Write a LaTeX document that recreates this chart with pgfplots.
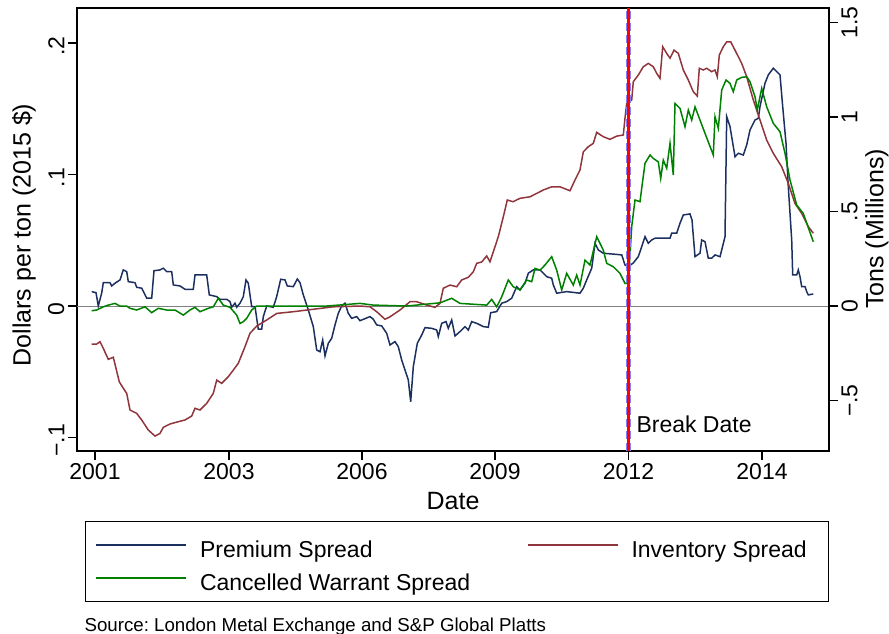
\documentclass[border=0pt]{standalone}
\usepackage{fontspec}
\setmainfont{Liberation Sans}
\usepackage{pgfplots}
\pgfplotsset{compat=1.18}
\definecolor{navyc}{RGB}{28,48,95}
\definecolor{maroonc}{RGB}{144,53,59}
\definecolor{greenc}{RGB}{0,128,0}
\definecolor{breakblue}{RGB}{128,128,255}
\newcommand{\tickfont}{\fontsize{23}{27}\selectfont}
\newcommand{\titlefont}{\fontsize{25}{30}\selectfont}
\frenchspacing
% x: position on the date axis (2001 = 95, 2003 = 229, 2006 = 362, 2009 = 495, 2012 = 628.5, 2014 = 762)
\pgfplotstableread{
x y
91.7 0.0109
96 0.0101
98.3 0.0000
101.7 0.0099
103.3 0.0177
110 0.0177
111.7 0.0152
115 0.0173
120 0.0198
123.3 0.0274
126.7 0.0261
128.3 0.0185
135 0.0177
136.7 0.0142
141.7 0.0135
146.7 0.0059
151.7 0.0059
154 0.0268
160 0.0274
163.3 0.0287
166.7 0.0261
171.7 0.0261
173.3 0.0160
180 0.0152
185 0.0127
193.3 0.0127
195 0.0236
206.7 0.0236
209.3 0.0084
216.7 0.0071
220 0.0051
226.7 0.0051
230 0.0033
231.7 -0.0010
235 0.0021
236.7 -0.0010
240 0.0021
243.3 0.0071
246 0.0198
248.3 0.0173
251.7 -0.0005
255 -0.0005
258.3 -0.0177
261.7 -0.0177
263.3 -0.0081
266.7 0.0000
273.3 -0.0010
276.7 0.0071
280.7 0.0203
285 0.0198
287.3 0.0152
293.3 0.0147
297.3 0.0205
300 0.0177
303.3 0.0084
308.3 -0.0030
313.3 -0.0157
316.7 -0.0335
320 -0.0348
322.7 -0.0259
325 -0.0380
328.3 -0.0284
331.7 -0.0246
335 -0.0144
338.3 -0.0056
341.7 0.0000
345 0.0021
348.3 -0.0056
351.7 -0.0094
356.7 -0.0081
360 -0.0112
370 -0.0081
373.3 -0.0101
376.7 -0.0144
381.7 -0.0152
386.7 -0.0208
390 -0.0297
395 -0.0271
398.3 -0.0310
401.7 -0.0411
405 -0.0487
408.3 -0.0563
410.7 -0.0728
413.3 -0.0462
417.3 -0.0284
421.7 -0.0221
425 -0.0165
431.7 -0.0170
436.7 -0.0183
438.3 -0.0233
441.7 -0.0132
446 -0.0119
448.3 -0.0170
451.7 -0.0106
455 -0.0228
460 -0.0195
465 -0.0157
468.3 -0.0183
471.7 -0.0119
476.7 -0.0132
483.3 -0.0157
488.3 -0.0162
490.7 -0.0051
496.7 -0.0043
501.7 0.0021
506.7 0.0033
511.7 0.0059
516.7 0.0147
520 0.0122
525 0.0173
528.3 0.0249
533.3 0.0274
540 0.0274
543.3 0.0249
546.7 0.0223
551.7 0.0211
553.3 0.0160
556.7 0.0097
566.7 0.0109
580 0.0097
583.3 0.0135
586.7 0.0198
591.7 0.0287
595 0.0477
598.3 0.0426
603.3 0.0401
616.7 0.0392
621.7 0.0388
625 0.0312
628.3 0.0299
633.3 0.0327
638.3 0.0375
641.7 0.0451
645 0.0527
648.3 0.0477
651.7 0.0502
655 0.0515
661.7 0.0515
670 0.0515
671.7 0.0553
676.7 0.0553
680 0.0629
683.3 0.0692
690 0.0700
692 0.0654
695 0.0375
700 0.0401
701.7 0.0502
705 0.0489
708.3 0.0363
711.7 0.0363
715 0.0388
720 0.0375
725 0.0527
726.7 0.1440
730 0.1364
735 0.1135
738.3 0.1161
743.3 0.1148
746.7 0.1224
750 0.1338
755 0.1414
758.3 0.1427
760 0.1516
765 0.1694
768.3 0.1757
773.3 0.1808
776.7 0.1782
780 0.1757
782.7 0.1516
786 0.1237
788.3 0.0907
791.7 0.0502
792.7 0.0236
796.7 0.0236
798.3 0.0274
800 0.0223
801.7 0.0147
805 0.0147
806.7 0.0109
808.3 0.0084
813.3 0.0091
}\premium
\pgfplotstableread{
x y
91.7 -0.201
96.7 -0.201
100 -0.189
103.3 -0.224
108.3 -0.282
113.3 -0.271
119.3 -0.401
123.3 -0.435
126.7 -0.462
130 -0.550
136.7 -0.568
141.7 -0.603
148.3 -0.656
155 -0.688
160 -0.674
163.3 -0.642
170 -0.624
178.3 -0.612
185 -0.603
191.7 -0.582
195 -0.541
200 -0.550
206.7 -0.515
213.3 -0.462
216.7 -0.392
221.7 -0.409
228.3 -0.374
233.3 -0.339
238.3 -0.303
245 -0.215
250 -0.144
256.7 -0.106
266.7 -0.074
276.7 -0.039
293.3 -0.030
313.3 -0.017
333.3 -0.004
360 0.000
370 -0.004
376.7 -0.030
385 -0.070
390 -0.057
400 -0.021
410 0.023
416.7 0.023
426.7 0.005
435 -0.007
440 0.014
443.3 0.094
450 0.111
456.7 0.102
461.7 0.138
468.3 0.152
473.3 0.181
476.7 0.226
481.7 0.233
486.7 0.265
490 0.234
493.3 0.287
498.3 0.367
503.3 0.472
507.3 0.561
513 0.552
520 0.570
530 0.578
536.7 0.596
543.3 0.614
551.7 0.631
560 0.631
570 0.610
575 0.667
580 0.720
583.3 0.816
588.3 0.843
593.3 0.861
596.7 0.919
603.3 0.896
610 0.882
616.7 0.899
623.3 0.905
625 0.995
626.7 1.072
631.7 1.090
633.3 1.187
638.3 1.222
643.3 1.266
648.3 1.284
653.3 1.266
656.7 1.231
660 1.205
662.7 1.372
666.7 1.337
670 1.311
674 1.354
678.3 1.337
683.3 1.249
688.3 1.196
693.3 1.134
697.3 1.111
699.3 1.258
703.3 1.249
706.7 1.258
711.7 1.240
715 1.249
717.3 1.213
719.3 1.328
723.3 1.372
726.7 1.398
730.7 1.398
735 1.354
741.7 1.284
746.7 1.213
753.3 1.090
760 0.984
766.7 0.878
773.3 0.808
781.7 0.737
788.3 0.649
795 0.543
801.7 0.490
808.3 0.420
813.3 0.385
}\inventory
\pgfplotstableread{
x y
91.7 -0.025
96.7 -0.021
103.3 -0.004
108.3 0.005
115 0.014
120 0.000
126.7 0.000
130 -0.012
136.7 -0.021
145 -0.004
151.7 -0.035
158.3 -0.012
166.7 -0.021
175 -0.021
183.3 -0.048
190 -0.021
195 -0.007
200 -0.030
208.3 -0.012
213.3 -0.004
218.3 0.041
223.3 0.005
230 -0.007
236.7 -0.048
240 -0.092
243.3 -0.083
246.7 -0.065
251.7 -0.021
256.7 0.000
293.3 0.000
326.7 0.000
360 0.014
373.3 0.005
406.7 0.000
440 0.017
451.7 0.041
460 0.014
486.7 0.005
491.7 0.035
496.7 -0.004
501.7 0.049
508.3 0.138
513.3 0.102
520 0.085
526.7 0.138
531.7 0.129
535 0.199
540 0.190
545 0.217
551.7 0.261
556.7 0.190
561.7 0.085
566.7 0.173
573.3 0.111
576.7 0.164
580 0.111
585 0.243
590 0.217
596.7 0.367
603.3 0.296
606.7 0.226
613.3 0.208
620 0.173
625 0.120
628.3 0.120
631.7 0.420
635 0.561
640 0.552
641.7 0.623
645 0.755
650 0.799
653.3 0.781
658.3 0.763
660.7 0.676
663.3 0.772
666.7 0.729
670 0.861
673.3 0.693
675 1.072
680 1.046
685 0.949
688.3 1.037
691.7 0.984
695 1.054
700 0.984
705 0.914
713.3 0.799
715 1.002
718.3 0.940
721.7 1.143
726 1.196
730 1.178
733.3 1.134
736.7 1.196
741.7 1.210
746.7 1.213
750 1.187
755 1.107
757.3 1.037
761.7 1.152
766.7 1.054
773.3 0.967
780 0.922
785 0.808
790 0.667
796.7 0.534
803.3 0.490
813.3 0.340
}\warrant
\begin{document}
\begin{tikzpicture}
\path[use as bounding box] (-77pt,-183pt) rectangle (812pt,451pt);
\begin{axis}[
  at={(0pt,0pt)}, anchor=south west,
  width=752pt, height=443pt, scale only axis,
  xmin=77, xmax=829, ymin=-0.1103, ymax=0.2266,
  xtick pos=bottom, ytick pos=left,
  tick align=outside, major tick length=9pt,
  axis line style={line width=1.2pt},
  every tick/.style={black, line width=1.2pt},
  xtick={95,229,362,495,628.5,762},
  xticklabels={2001,2003,2006,2009,2012,2014},
  ytick={-0.1,0,0.1,0.2},
  yticklabels={−.1,0,.1,.2},
  ticklabel style={font=\tickfont},
  yticklabel style={rotate=90, anchor=south, xshift=-3pt},
  minor tick num=0,
]
\addplot[gray, line width=0.9pt] coordinates {(77,0) (829,0)};
\addplot[navyc, line width=1.5pt] table[x=x, y=y] {\premium};
\end{axis}
\begin{axis}[
  at={(0pt,0pt)}, anchor=south west,
  width=752pt, height=443pt, scale only axis,
  xmin=77, xmax=829, ymin=-0.767, ymax=1.577,
  axis x line=none, axis y line*=right,
  tick align=outside, major tick length=9pt,
  axis line style={line width=1.2pt},
  every tick/.style={black, line width=1.2pt},
  ytick={-0.5,0,0.5,1,1.5},
  yticklabels={−.5,0,.5,1,1.5},
  ticklabel style={font=\tickfont},
  yticklabel style={rotate=90, anchor=north},
  legend style={at={(axis description cs:0.01064,-0.15800)}, anchor=north west,
    draw=black, line width=1.1pt, inner xsep=10pt, inner ysep=8pt, row sep=2pt,
    font=\tickfont,
    nodes={inner sep=0pt, text height=28pt, text depth=3pt},
    /tikz/every odd column/.style={column sep=13pt},
    /tikz/every even column/.style={column sep=27pt}},
  legend columns=2, legend cell align=left,
  legend image code/.code={\draw[#1] (0pt,0pt) -- (90pt,0pt);},
]
\addlegendimage{navyc, line width=1.5pt}
\addlegendentry{\makebox[300pt][l]{Premium Spread}}
\addplot[maroonc, line width=1.5pt] table[x=x, y=y] {\inventory};
\addlegendentry{\makebox[187pt][l]{Inventory Spread}}
\addplot[greenc, line width=1.5pt] table[x=x, y=y] {\warrant};
\addlegendentry{\makebox[300pt][l]{Cancelled Warrant Spread}}
\addplot[breakblue, line width=5pt, dash pattern=on 8pt off 4pt, forget plot] coordinates {(628.5,-0.767) (628.5,1.577)};
\addplot[red, line width=2.5pt, forget plot] coordinates {(628.5,-0.767) (628.5,1.577)};
\end{axis}
\node[rotate=90, font=\titlefont] at (-53pt,216pt) {Dollars per ton (2015 \$)};
\node[rotate=90, font=\titlefont] at (800pt,222pt) {Tons (Millions)};
\node[anchor=base, font=\titlefont] at (376pt,-59pt) {Date};
\node[anchor=base west, font=\tickfont] at (556pt,18pt) {Break Date};
\node[anchor=base west, font=\fontsize{18.7}{22}\selectfont] at (4pt,-180pt) {Source: London Metal Exchange and S\&P Global Platts};
\end{tikzpicture}
\end{document}
